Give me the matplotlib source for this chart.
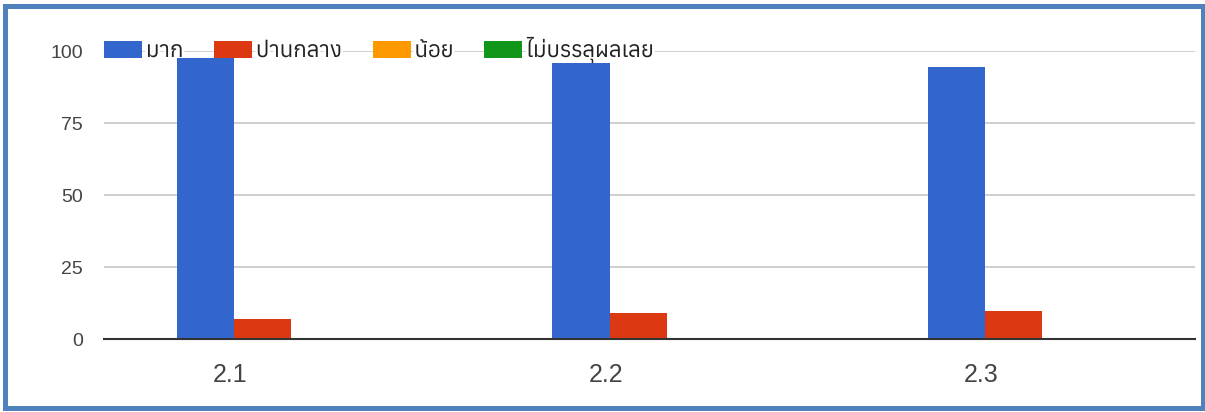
import matplotlib
matplotlib.use("Agg")
import matplotlib.pyplot as plt
import matplotlib.patches as mpatches
import matplotlib.patheffects as pe
from matplotlib import font_manager
from matplotlib.ft2font import FT2Font
import numpy as np

# data
categories = ["2.1", "2.2", "2.3"]
series_names = ["มาก", "ปานกลาง", "น้อย", "ไม่บรรลุผลเลย"]
mak = [97.6, 95.8, 94.4]
panklang = [6.8, 9.0, 9.6]
noi = [0, 0, 0]
mai_banlu = [0, 0, 0]
colors = ["#3366CC", "#DC3912", "#FF9900", "#109618"]
y_ticks = [0, 25, 50, 75, 100]

# look for an installed font that has Thai glyphs
thai_font = None
for f in sorted(font_manager.fontManager.ttflist, key=lambda f: f.name):
    try:
        if FT2Font(f.fname).get_char_index(0x0E01):
            thai_font = f.name
            break
    except Exception:
        pass
families = ["Liberation Sans"] + ([thai_font] if thai_font else []) + ["DejaVu Sans"]
plt.rcParams["font.family"] = families

W, H = 1205, 412
fig = plt.figure(figsize=(W / 100, H / 100), dpi=100)
ax = fig.add_axes([104 / W, 1 - 339 / H, (1195 - 104) / W, (339 - 51) / H])

x = np.arange(len(categories))
bw = 0.152
ax.bar(x - bw / 2, mak, bw, color=colors[0], label=series_names[0], zorder=3)
ax.bar(x + bw / 2, panklang, bw, color=colors[1], label=series_names[1], zorder=3)
ax.bar(x + 1.5 * bw, noi, bw, color=colors[2], label=series_names[2], zorder=3, linewidth=0)
ax.bar(x + 2.5 * bw, mai_banlu, bw, color=colors[3], label=series_names[3], zorder=3, linewidth=0)

ax.set_xlim(-0.346, 2.559)
ax.set_ylim(0, 100)
ax.set_yticks(y_ticks)
ax.set_xticks(x - 0.01)
ax.set_xticklabels(categories)
ax.yaxis.grid(True, color="#CCCCCC", linewidth=1.3, zorder=0)
ax.set_axisbelow(True)
for s in ["top", "right", "left"]:
    ax.spines[s].set_visible(False)
ax.spines["bottom"].set_color("#333333")
ax.spines["bottom"].set_linewidth(1.5)
ax.spines["bottom"].set_zorder(4)
ax.tick_params(axis="y", length=0, pad=15, labelsize=14, labelcolor="#444444")
ax.tick_params(axis="x", length=0, pad=17, labelsize=18, labelcolor="#444444")

leg = ax.legend(loc="center left", bbox_to_anchor=(104 / W, 1 - 50 / H),
                bbox_transform=fig.transFigure, ncol=4,
                frameon=False, borderpad=0, borderaxespad=0, fontsize=16,
                handlelength=1.71, handleheight=0.8, handletextpad=0.18,
                columnspacing=1.37)
leg.set_zorder(2.5)
for t in leg.get_texts():
    t.set_color("#222222")
    t.set_path_effects([pe.withStroke(linewidth=4, foreground="white")])

# blue frame round the whole chart
fig.patches.append(mpatches.Rectangle((4.5 / W, 1 - 408 / H), (1203 - 4.5) / W, (408 - 6) / H,
                                      transform=fig.transFigure, fill=False,
                                      edgecolor="#4F81BD", linewidth=3.6))

fig.savefig("out.png", dpi=100, facecolor="white")
